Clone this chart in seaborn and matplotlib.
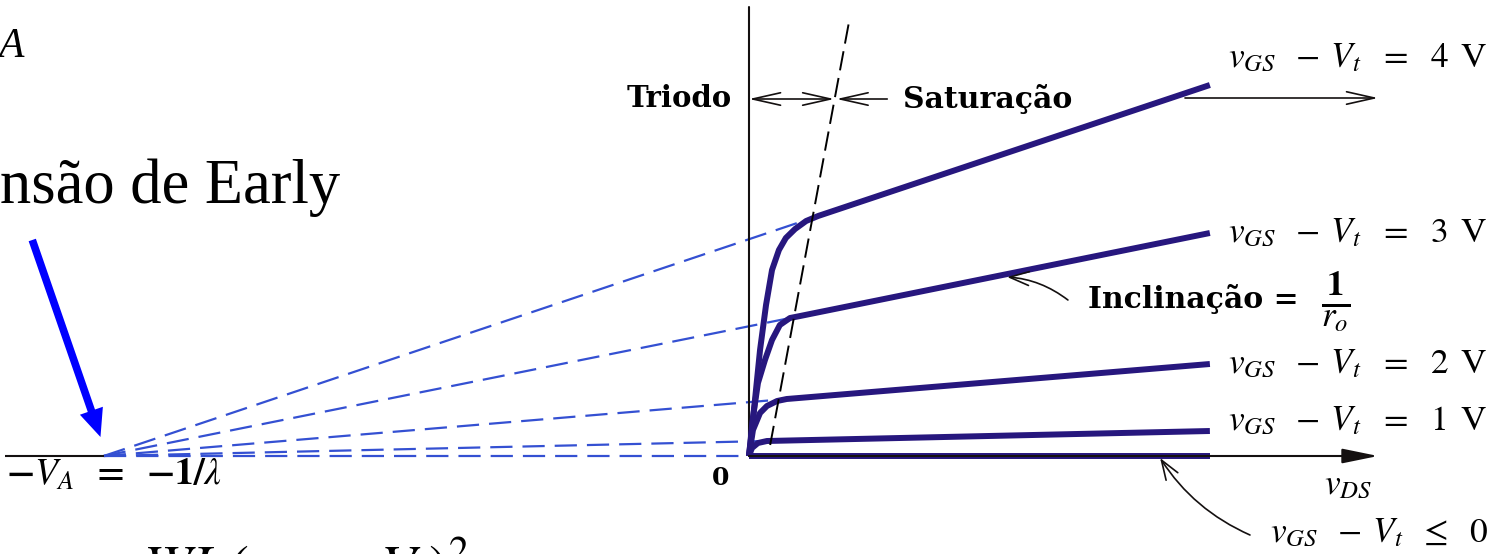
import numpy as np
import pandas as pd
import matplotlib
matplotlib.use("Agg")
import matplotlib.pyplot as plt
from matplotlib.patches import ArrowStyle
import seaborn as sns

# ---- MOSFET output characteristics with channel-length modulation ----
early_voltage = 14.0   # V_A = 1/lambda: all saturation lines meet at vDS = -V_A

overdrive_names = ["4 V", "3 V", "2 V", "1 V", "off"]

# iD versus vDS for each overdrive (triode knee, then the saturation segment)
vds_ov4 = [0.0, 0.065, 0.13, 0.24, 0.37, 0.50, 0.65, 0.80, 1.00, 1.24, 1.50, 10.0]
id_ov4 = [0.0, 0.26, 0.56, 1.06, 1.51, 1.86, 2.06, 2.18, 2.27, 2.35, 2.40, 3.71]
vds_ov3 = [0.0, 0.087, 0.195, 0.347, 0.50, 0.67, 0.89, 1.11, 10.0]
id_ov3 = [0.0, 0.39, 0.73, 0.96, 1.16, 1.31, 1.38, 1.40, 2.23]
vds_ov2 = [0.0, 0.087, 0.24, 0.39, 0.61, 0.82, 10.0]
id_ov2 = [0.0, 0.26, 0.43, 0.50, 0.55, 0.57, 0.92]
vds_ov1 = [0.0, 0.065, 0.195, 0.39, 10.0]
id_ov1 = [0.0, 0.08, 0.13, 0.15, 0.25]
vds_off = [0.0, 10.0]
id_off = [0.0, 0.0]

# boundary between triode and saturation (vDS = vGS - Vt)
vds_edge = [0.46, 2.17]
id_edge = [0.11, 4.34]

_lhs = r"v_{GS}\hspace{0.8}{-}\hspace{0.42}V_t"
curve_labels = [
    rf"${_lhs}\hspace{{0.68}}{{=}}\hspace{{0.68}}4\hspace{{0.5}}\mathrm{{V}}$",
    rf"${_lhs}\hspace{{0.68}}{{=}}\hspace{{0.68}}3\hspace{{0.5}}\mathrm{{V}}$",
    rf"${_lhs}\hspace{{0.68}}{{=}}\hspace{{0.68}}2\hspace{{0.5}}\mathrm{{V}}$",
    rf"${_lhs}\hspace{{0.68}}{{=}}\hspace{{0.68}}1\hspace{{0.5}}\mathrm{{V}}$",
    rf"${_lhs}\hspace{{0.62}}{{\leq}}\hspace{{0.62}}0$",
]

curve_vds = [vds_ov4, vds_ov3, vds_ov2, vds_ov1, vds_off]
curve_id = [id_ov4, id_ov3, id_ov2, id_ov1, id_off]

curves = pd.concat(
    [pd.DataFrame({"vDS": v, "iD": i, "curve": n})
     for v, i, n in zip(curve_vds, curve_id, overdrive_names)],
    ignore_index=True,
)

# extrapolation of each saturation line back to -V_A (ends at the knee)
knee_rows = []
for v, i, n in zip(curve_vds, curve_id, overdrive_names):
    knee_v, knee_i = (v[-2], i[-2]) if len(v) > 2 else (0.0, 0.0)
    knee_rows.append({"vDS": -early_voltage, "iD": 0.0, "curve": n})
    knee_rows.append({"vDS": knee_v, "iD": knee_i, "curve": n})
extrapolations = pd.DataFrame(knee_rows)

edge = pd.DataFrame({"vDS": vds_edge, "iD": id_edge})

# ---- styling ----
sns.set_theme(style="white")
plt.rcParams["font.family"] = ["Liberation Serif", "DejaVu Serif"]
plt.rcParams["mathtext.fontset"] = "stix"
plt.rcParams["text.color"] = "black"

W, H = 1509, 554
fig = plt.figure(figsize=(W / 100, H / 100), dpi=100)
ax = fig.add_axes([0, 0, 1, 1])
ax.set_xlim(-16.25, 16.49)
ax.set_ylim(-0.98, 4.56)
ax.set_axis_off()

curve_color = "#27177e"
dash_color = "#3450d2"
ink = "#141010"


def fxy(px, py):
    """Figure-fraction position from a pixel position measured from the top left."""
    return (px / W, 1 - py / H)


# dashed extrapolations toward the Early voltage
sns.lineplot(data=extrapolations, x="vDS", y="iD", units="curve", estimator=None,
             sort=False, color=dash_color, lw=1.6, linestyle=(0, (10, 4.5)), ax=ax)

# axes
ax.plot([-16.14, -early_voltage], [0, 0], color=ink, lw=1.5, solid_capstyle="butt")
ax.plot([0, 0], [0, 4.49], color=ink, lw=1.5)
ax.annotate("", xy=(13.65, 0), xytext=(0, 0),
            arrowprops=dict(arrowstyle=ArrowStyle("-|>", head_length=22, head_width=4.5),
                            mutation_scale=1, color=ink, lw=1.5,
                            shrinkA=0, shrinkB=0))

# characteristic curves
sns.lineplot(data=curves, x="vDS", y="iD", units="curve", estimator=None,
             sort=False, color=curve_color, lw=4.3, ax=ax,
             solid_joinstyle="round", solid_capstyle="butt")

# triode / saturation boundary
sns.lineplot(data=edge, x="vDS", y="iD", color="black", lw=1.4,
             linestyle=(0, (10, 4)), ax=ax)

# region markers
region_y = 3.57
edge_x_at_marker = 1.85
open_head = dict(mutation_scale=1, color=ink, lw=1.2, shrinkA=0, shrinkB=0)
ax.annotate("", xy=(edge_x_at_marker, region_y), xytext=(0, region_y),
            arrowprops=dict(arrowstyle=ArrowStyle("<->", head_length=20, head_width=4.5),
                            **open_head))
ax.annotate("", xy=(edge_x_at_marker + 0.05, region_y), xytext=(3.0, region_y),
            arrowprops=dict(arrowstyle=ArrowStyle("->", head_length=20, head_width=4.5),
                            **open_head))
ax.annotate("", xy=(13.65, 3.58), xytext=(9.46, 3.58),
            arrowprops=dict(arrowstyle=ArrowStyle("->", head_length=20, head_width=4.5),
                            **open_head))

bold_serif = dict(family="DejaVu Serif", fontweight="bold", fontsize=21, color="black")
fig.text(*fxy(732, 107), "Triodo", ha="right", va="baseline", **bold_serif)
fig.text(*fxy(903, 108), "Saturação", ha="left", va="baseline",
         **{**bold_serif, "fontsize": 21.5})
fig.text(*fxy(1088, 308), "Inclinação =", ha="left", va="baseline",
         **{**bold_serif, "fontsize": 21.5})
fig.text(*fxy(1336, 301), r"$\frac{\mathbf{1}}{r_o}$", ha="center", va="center",
         fontsize=36)

# slope pointer onto the 3 V line
ax.annotate("", xy=(5.60, 1.79), xytext=(6.92, 1.56),
            arrowprops=dict(arrowstyle=ArrowStyle("->", head_length=14, head_width=5),
                            connectionstyle="arc3,rad=0.15", **open_head))
# pointer onto the cut-off line
ax.annotate("", xy=(8.92, -0.02), xytext=(10.87, -0.79),
            arrowprops=dict(arrowstyle=ArrowStyle("->", head_length=14, head_width=5),
                            connectionstyle="arc3,rad=-0.15", **open_head))

# curve labels
label_fs = 25.5
for text, (px, py) in zip(curve_labels,
                          [(1228, 67), (1228, 242), (1228, 373), (1228, 430), (1270, 542)]):
    fig.text(*fxy(px, py), text, ha="left", va="baseline", fontsize=label_fs)

fig.text(*fxy(1324, 494), r"$v_{DS}$", ha="left", va="baseline", fontsize=label_fs)
fig.text(*fxy(721, 485), "0", ha="center", va="baseline",
         family="DejaVu Serif", fontweight="bold", fontsize=18)
fig.text(*fxy(6, 485),
         r"$\mathbf{-}V_A\hspace{0.6}\mathbf{=}\hspace{0.6}\mathbf{{-}1/}\lambda$",
         ha="left", va="baseline", fontsize=27)

# Early-voltage callout
ax.annotate("", xy=(-14.07, 0.19), xytext=(-15.55, 2.16),
            arrowprops=dict(arrowstyle=ArrowStyle("simple", head_length=0.8,
                                                  head_width=0.7, tail_width=0.22),
                            mutation_scale=25, facecolor="#0000ff", edgecolor="none",
                            shrinkA=0, shrinkB=0))
fig.text(*fxy(0, 203), "nsão de Early", ha="left", va="baseline", fontsize=45)
fig.text(*fxy(-2, 57), "A", ha="left", va="baseline", fontsize=30, fontstyle="italic")
fig.text(*fxy(143, 585), r"$WL\,(v_{GS}-V_t)^2$", ha="left", va="baseline",
         fontsize=41)

fig.savefig("out.png", dpi=100)
